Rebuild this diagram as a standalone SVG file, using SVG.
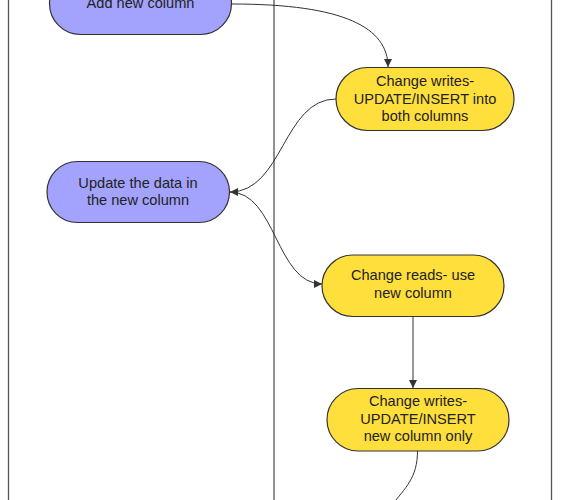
<svg xmlns="http://www.w3.org/2000/svg" width="561" height="500" viewBox="0 0 561 500">
<style>
.frame{fill:none;stroke:#555;stroke-width:1.3}
.purple{fill:#a3a3fd;stroke:#333;stroke-width:1.2}
.yellow{fill:#ffdf3c;stroke:#333;stroke-width:1.2}
.lbl{font-family:"Liberation Sans",Arial,sans-serif;font-size:14.6px;fill:#222;text-anchor:middle}
.conn{fill:none;stroke:#333;stroke-width:1}
</style>
<defs>
<marker id="arr" viewBox="0 0 10 10" refX="10" refY="5" markerWidth="8" markerHeight="8" markerUnits="userSpaceOnUse" orient="auto">
<path d="M0,0 L10,5 L0,10 z" fill="#333"/>
</marker>
</defs>
<g id="frame">
<line class="frame" x1="8.5" y1="0" x2="8.5" y2="500"/>
<line class="frame" x1="274" y1="0" x2="274" y2="500"/>
<line class="frame" x1="551.5" y1="0" x2="551.5" y2="500"/>
</g>
<g id="connectors">
<path class="conn" d="M232,4 C345,4 388,28 388,67" marker-end="url(#arr)"/>
<path class="conn" d="M336,99 C283,99 283,192 230,192" marker-end="url(#arr)"/>
<path class="conn" d="M230,192 C276,192 276,284 322,284" marker-end="url(#arr)"/>
<path class="conn" d="M413,317 L413,388" marker-end="url(#arr)"/>
<path class="conn" d="M417.5,451 C417.5,478 405,488 392,505"/>
</g>
<g id="node-add">
<rect class="purple" x="49.5" y="-27.5" width="182" height="62" rx="31"/>
<text class="lbl" x="140.5" y="8">Add new column</text>
</g>
<g id="node-writes-both">
<rect class="yellow" x="336" y="67.5" width="178" height="63" rx="31.5"/>
<text class="lbl" x="425" y="86">Change writes-</text>
<text class="lbl" x="425" y="103.5">UPDATE/INSERT into</text>
<text class="lbl" x="425" y="121">both columns</text>
</g>
<g id="node-update">
<rect class="purple" x="47" y="161.5" width="182.5" height="61" rx="30.5"/>
<text class="lbl" x="138" y="187.5">Update the data in</text>
<text class="lbl" x="138" y="205">the new column</text>
</g>
<g id="node-reads">
<rect class="yellow" x="322" y="255" width="182" height="61.5" rx="30.75"/>
<text class="lbl" x="413" y="280">Change reads- use</text>
<text class="lbl" x="413" y="297.5">new column</text>
</g>
<g id="node-writes-new">
<rect class="yellow" x="327" y="388.5" width="182" height="62.5" rx="31.25"/>
<text class="lbl" x="418" y="406">Change writes-</text>
<text class="lbl" x="418" y="423.5">UPDATE/INSERT</text>
<text class="lbl" x="418" y="441">new column only</text>
</g>
</svg>
